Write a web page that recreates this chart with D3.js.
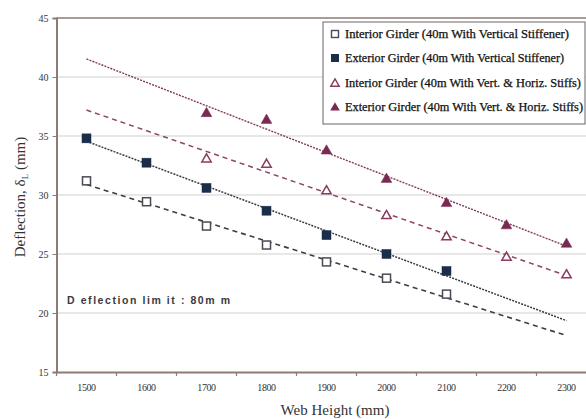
<!DOCTYPE html>
<html><head><meta charset="utf-8">
<script src="https://cdn.jsdelivr.net/npm/d3@7"></script>
<style>body{margin:0;background:#fff;}svg{display:block;}</style>
</head><body>
<svg id="chart" width="586" height="419"></svg>
<script>
const categories = ["1500","1600","1700","1800","1900","2000","2100","2200","2300"];
const yTicks = [15,20,25,30,35,40,45];
const interiorVert = [31.2,29.43,27.37,25.76,24.33,22.95,21.6,null,null];
const exteriorVert = [34.8,32.74,30.6,28.67,26.6,25.0,23.56,null,null];
const interiorVH = [null,null,33.1,32.65,30.4,28.3,26.5,24.77,23.28];
const exteriorVH = [null,null,36.97,36.4,33.8,31.4,29.35,27.46,25.9];
// trend line ends at 1500 and 2300
const trendInteriorVert = [30.89,18.09];
const trendExteriorVert = [34.55,19.35];
const trendInteriorVH = [37.2,23.17];
const trendExteriorVH = [41.53,25.66];
const legendLabels = [
  "Interior Girder (40m With Vertical Stiffener)",
  "Exterior Girder (40m With Vertical Stiffener)",
  "Interior Girder (40m With Vert. & Horiz. Stiffs)",
  "Exterior Girder (40m With Vert. & Horiz. Stiffs)"
];
const annotation = "D eflection lim it : 80m m";

const svg = d3.select("#chart");
const serif = "'Liberation Serif','Times New Roman',serif";
const plotLeft = 56.5, plotTop = 18, plotBottom = 372;
const x = d3.scaleBand().domain(categories).range([plotLeft, plotLeft + 540]).paddingInner(0).paddingOuter(0);
const y = d3.scaleLinear().domain([15,45]).range([plotBottom, plotTop]);
const cx = c => x(c) + x.bandwidth()/2;

// gridlines
svg.append("g").selectAll("line").data(yTicks.filter(t => t>15 && t<45)).join("line")
  .attr("x1", plotLeft).attr("x2", 586).attr("y1", d=>y(d)).attr("y2", d=>y(d))
  .attr("stroke", "#cfcfcf").attr("stroke-width", 1.2);
// top border
svg.append("line").attr("x1", plotLeft).attr("x2", 586).attr("y1", y(45)).attr("y2", y(45))
  .attr("stroke", "#8d7b76").attr("stroke-width", 1.6);

// y axis
const ya = svg.append("g").attr("transform", `translate(${plotLeft},0)`)
  .call(d3.axisLeft(y).tickValues(yTicks).tickSize(4).tickPadding(4));
ya.select(".domain").attr("stroke", "#8d7b76").attr("stroke-width", 2);
ya.selectAll(".tick line").attr("stroke", "#8d7b76");
ya.selectAll("text").attr("font-family", serif).attr("font-size", 10).attr("fill", "#333");

// x axis
const xa = svg.append("g").attr("transform", `translate(0,${plotBottom})`)
  .call(d3.axisBottom(x).tickSize(0).tickPadding(12));
xa.select(".domain").attr("stroke", "#8d7b76").attr("stroke-width", 2);
xa.selectAll("text").attr("font-family", serif).attr("font-size", 10).attr("fill", "#333")
  .attr("letter-spacing", "-0.4px");
xa.selectAll(".bt").data(categories.slice(1).concat(["end"])).join("line")
  .attr("x1", d => d==="end" ? plotLeft+540 : x(d)).attr("x2", d => d==="end" ? plotLeft+540 : x(d))
  .attr("y1", 0).attr("y2", 4).attr("stroke", "#8d7b76").attr("stroke-width", 1.2);
xa.append("line").attr("x1", plotLeft).attr("x2", plotLeft).attr("y1", 0).attr("y2", 4)
  .attr("stroke", "#8d7b76").attr("stroke-width", 1.2);

// trend lines
const trends = [
  {d: trendInteriorVert, color: "#3d3d45", dash: "5,4", w: 1.6},
  {d: trendExteriorVert, color: "#3a3a44", dash: "2,1.2", w: 1.5},
  {d: trendInteriorVH, color: "#8e4565", dash: "5,4", w: 1.5},
  {d: trendExteriorVH, color: "#7e3a5a", dash: "2,1.2", w: 1.4}
];
trends.forEach(t => {
  svg.append("line")
    .attr("x1", cx(categories[0])).attr("y1", y(t.d[0]))
    .attr("x2", cx(categories[categories.length-1])).attr("y2", y(t.d[1]))
    .attr("stroke", t.color).attr("stroke-width", t.w).attr("stroke-dasharray", t.dash);
});

// markers
const tri = d3.symbol().type(d3.symbolTriangle);
function drawSeries(vals, kind) {
  const pts = categories.map((c,i)=>({c, v: vals[i]})).filter(p => p.v != null);
  const g = svg.append("g");
  if (kind === "osq") {
    g.selectAll("rect").data(pts).join("rect")
      .attr("x", p=>cx(p.c)-4).attr("y", p=>y(p.v)-4).attr("width", 8).attr("height", 8)
      .attr("fill", "#fff").attr("stroke", "#4a4a55").attr("stroke-width", 1.5);
  } else if (kind === "fsq") {
    g.selectAll("rect").data(pts).join("rect")
      .attr("x", p=>cx(p.c)-4.5).attr("y", p=>y(p.v)-4.5).attr("width", 9).attr("height", 9)
      .attr("fill", "#1b2d48").attr("stroke", "#1b2d48").attr("stroke-width", 0.5);
  } else if (kind === "otri") {
    g.selectAll("path").data(pts).join("path")
      .attr("transform", p=>`translate(${cx(p.c)},${y(p.v)+0.8})`).attr("d", tri.size(38)())
      .attr("fill", "#fff").attr("stroke", "#8b3a60").attr("stroke-width", 1.5);
  } else {
    g.selectAll("path").data(pts).join("path")
      .attr("transform", p=>`translate(${cx(p.c)},${y(p.v)+0.8})`).attr("d", tri.size(50)())
      .attr("fill", "#7a2a52").attr("stroke", "#7a2a52").attr("stroke-width", 0.5);
  }
}
drawSeries(interiorVert, "osq");
drawSeries(exteriorVert, "fsq");
drawSeries(interiorVH, "otri");
drawSeries(exteriorVH, "ftri");

// legend
const lg = svg.append("g");
lg.append("rect").attr("x", 323).attr("y", 22).attr("width", 262).attr("height", 102)
  .attr("fill", "#fff").attr("stroke", "#666").attr("stroke-width", 1);
const kinds = ["osq","fsq","otri","ftri"];
const ly = [34, 58, 83, 107];
const lw = [224, 219, 236, 238];
legendLabels.forEach((lab,i)=>{
  const k = kinds[i], mx = 335, my = ly[i];
  if (k==="osq") lg.append("rect").attr("x", mx-3.5).attr("y", my-3.5).attr("width",7).attr("height",7)
      .attr("fill","#fff").attr("stroke","#4a4a55").attr("stroke-width",1.4);
  else if (k==="fsq") lg.append("rect").attr("x", mx-4).attr("y", my-4).attr("width",8).attr("height",8)
      .attr("fill","#1b2d48");
  else if (k==="otri") lg.append("path").attr("transform",`translate(${mx},${my+0.8})`).attr("d", tri.size(32)())
      .attr("fill","#fff").attr("stroke","#8b3a60").attr("stroke-width",1.4);
  else lg.append("path").attr("transform",`translate(${mx},${my+0.8})`).attr("d", tri.size(40)())
      .attr("fill","#7a2a52");
  lg.append("text").attr("x", 345).attr("y", my+4).text(lab)
    .attr("font-family", serif).attr("font-size", 11.5).attr("fill", "#111")
    .attr("stroke", "#111").attr("stroke-width", 0.25)
    .attr("textLength", lw[i]).attr("lengthAdjust", "spacingAndGlyphs");
});

// annotation
svg.append("text").attr("x", 67).attr("y", 304).text(annotation)
  .attr("font-family", "'Liberation Sans',Arial,sans-serif").attr("font-size", 10.5)
  .attr("font-weight", "bold").attr("fill", "#3a3a40")
  .attr("textLength", 163).attr("lengthAdjust", "spacing");

// axis titles
svg.append("text").attr("x", 335).attr("y", 415).attr("text-anchor","middle")
  .attr("font-family", serif).attr("font-size", 15).attr("fill", "#333").text("Web Height (mm)");
const yt = svg.append("text").attr("transform", "translate(25,197) rotate(-90)").attr("text-anchor","middle")
  .attr("font-family", serif).attr("font-size", 15).attr("fill", "#333");
yt.append("tspan").text("Deflection, δ");
yt.append("tspan").attr("font-size", 9).attr("dy", 3).text("L");
yt.append("tspan").attr("dy", -3).text(" (mm)");
</script>
</body></html>
